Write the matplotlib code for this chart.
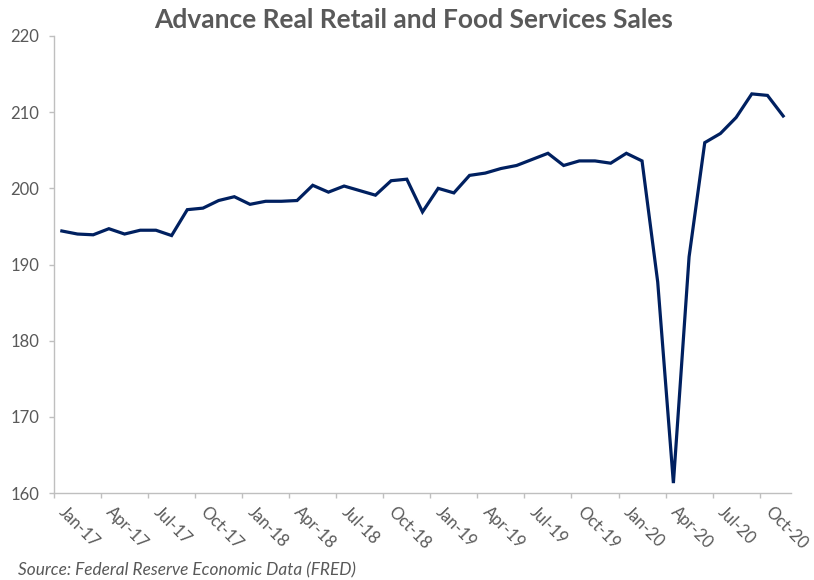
import numpy as np
import matplotlib.pyplot as plt

# monthly values, Jan-17 .. Nov-20
sales = [194.4, 194.0, 193.9, 194.7, 194.0, 194.5, 194.5, 193.8, 197.2, 197.4,
         198.4, 198.9, 197.9, 198.3, 198.3, 198.4, 200.4, 199.5, 200.3, 199.7,
         199.1, 201.0, 201.2, 196.9, 200.0, 199.4, 201.7, 202.0, 202.6, 203.0,
         203.8, 204.6, 203.0, 203.6, 203.6, 203.3, 204.6, 203.6, 187.7, 161.3,
         191.0, 206.0, 207.2, 209.3, 212.4, 212.2, 209.5]
tick_labels = ['Jan-17', 'Apr-17', 'Jul-17', 'Oct-17', 'Jan-18', 'Apr-18',
               'Jul-18', 'Oct-18', 'Jan-19', 'Apr-19', 'Jul-19', 'Oct-19',
               'Jan-20', 'Apr-20', 'Jul-20', 'Oct-20']
y_ticks = [160, 170, 180, 190, 200, 210, 220]

W, H = 814, 580
grey = '#595959'
axis_grey = '#BFBFBF'
navy = '#002060'
plt.rcParams['font.family'] = ['Lato', 'DejaVu Sans']

fig = plt.figure(figsize=(W / 100, H / 100), dpi=100)
ax = fig.add_axes([54 / W, 1 - 493 / H, (791 - 54) / W, (493 - 36) / H])

x = np.arange(len(sales))
ax.plot(x, sales, color=navy, lw=2.3, solid_joinstyle='miter')

ax.set_xlim(-0.5, len(sales) - 0.5)
ax.set_ylim(160, 220)

# ticks between categories every 3 months, labels on the category itself
ax.set_xticks(np.arange(-0.5, len(sales) - 1, 3))
ax.set_xticklabels([])
ax.set_xticks(np.arange(0, len(sales), 3), minor=True)
ax.set_xticklabels(tick_labels, minor=True)
ax.tick_params(axis='x', which='major', length=3.6, color=axis_grey, width=1)
ax.tick_params(axis='x', which='minor', length=0, pad=12, labelsize=12, labelcolor=grey)
for lab in ax.get_xticklabels(minor=True):
    lab.set_rotation(-45)
    lab.set_ha('left')
    lab.set_va('center')
    lab.set_rotation_mode('anchor')

ax.set_yticks(y_ticks)
ax.tick_params(axis='y', length=3.6, color=axis_grey, width=1, labelsize=12,
               labelcolor=grey, pad=7)

for s in ['top', 'right']:
    ax.spines[s].set_visible(False)
for s in ['left', 'bottom']:
    ax.spines[s].set_color(axis_grey)
    ax.spines[s].set_linewidth(1)

fig.text(414 / W, 1 - 20 / H, 'Advance Real Retail and Food Services Sales',
         ha='center', va='center', fontsize=19, fontweight='bold', color=grey)
fig.text(18 / W, 1 - 570 / H, 'Source: Federal Reserve Economic Data (FRED)',
         ha='left', va='center', fontsize=12.4, style='italic', color=grey)

fig.savefig('out.png', dpi=100)
